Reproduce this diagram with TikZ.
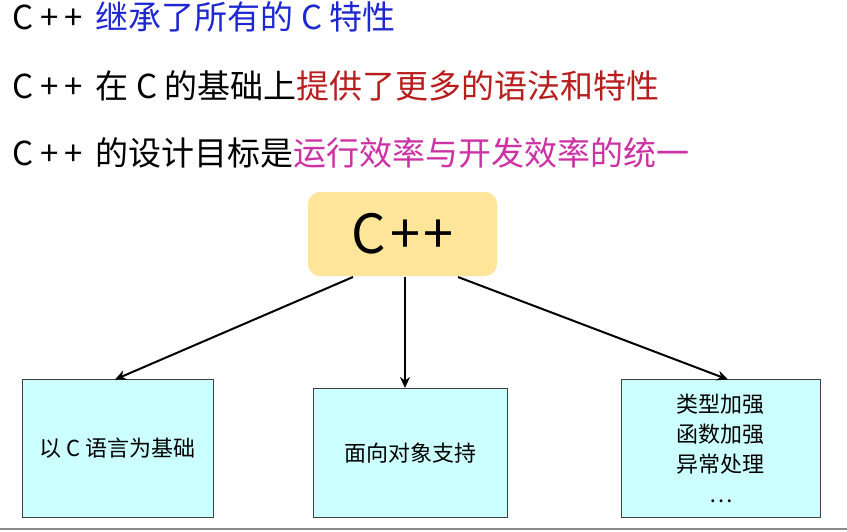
\documentclass[tikz,border=0pt]{standalone}
\usepackage{fontspec}
\setmainfont{Noto Sans CJK SC}
\usetikzlibrary{arrows.meta}
\definecolor{cblue}{RGB}{30,40,210}
\definecolor{cred}{RGB}{185,30,30}
\definecolor{cmag}{RGB}{205,50,165}
\definecolor{cyel}{RGB}{255,229,153}
\definecolor{ccyan}{RGB}{204,255,255}
\newcommand{\cpluplu}{C\kern7pt+\kern6pt+\hspace{13pt}}
\begin{document}
\begin{tikzpicture}[x=1pt,y=-1pt,
  line/.style={anchor=base west,inner sep=0pt,font=\fontsize{33}{38}\selectfont},
  leaf/.style={draw=black!75,line width=0.6pt,fill=ccyan,anchor=north west,inner sep=0pt,
    font=\fontsize{22}{30}\selectfont,align=center},
  conn/.style={line width=2pt,-{Stealth[length=11pt,width=10pt]}}]
\useasboundingbox (0,0) rectangle (847,531);
\fill[white] (0,0) rectangle (847,531);
\node[line] (l1) at (12,29) {\cpluplu\textcolor{cblue}{继承了所有的 C 特性}};
\node[line] (l2) at (12,98) {\cpluplu 在 C 的基础上\textcolor{cred}{提供了更多的语法和特性}};
\node[line] (l3) at (12,165) {\cpluplu 的设计目标是\textcolor{cmag}{运行效率与开发效率的统一}};
\node[fill=cyel,rounded corners=12pt,minimum width=189pt,minimum height=84pt,inner sep=0pt,
  font=\fontsize{54}{60}\selectfont] (cpp) at (402.5,234) {C\kern5pt+\kern3pt+};
\node[leaf,minimum width=191pt,minimum height=138pt] (a) at (22,379) {以 C 语言为基础};
\node[leaf,minimum width=194pt,minimum height=129pt] (b) at (313,388) {面向对象支持};
\node[leaf,minimum width=199pt,minimum height=138pt] (c) at (621,379) {类型加强\\函数加强\\异常处理\\…};
\coordinate (ca) at (353,277);
\coordinate (cb) at (405,277);
\coordinate (cc) at (458,277);
\coordinate (ta) at (115,379.5);
\coordinate (tb) at (405,388);
\coordinate (tc) at (728,379.5);
\draw[conn] (ca) -- (ta);
\draw[conn] (cb) -- (tb);
\draw[conn] (cc) -- (tc);
\draw[black!45,line width=2pt] (0,529) -- (847,529);
\end{tikzpicture}
\end{document}
